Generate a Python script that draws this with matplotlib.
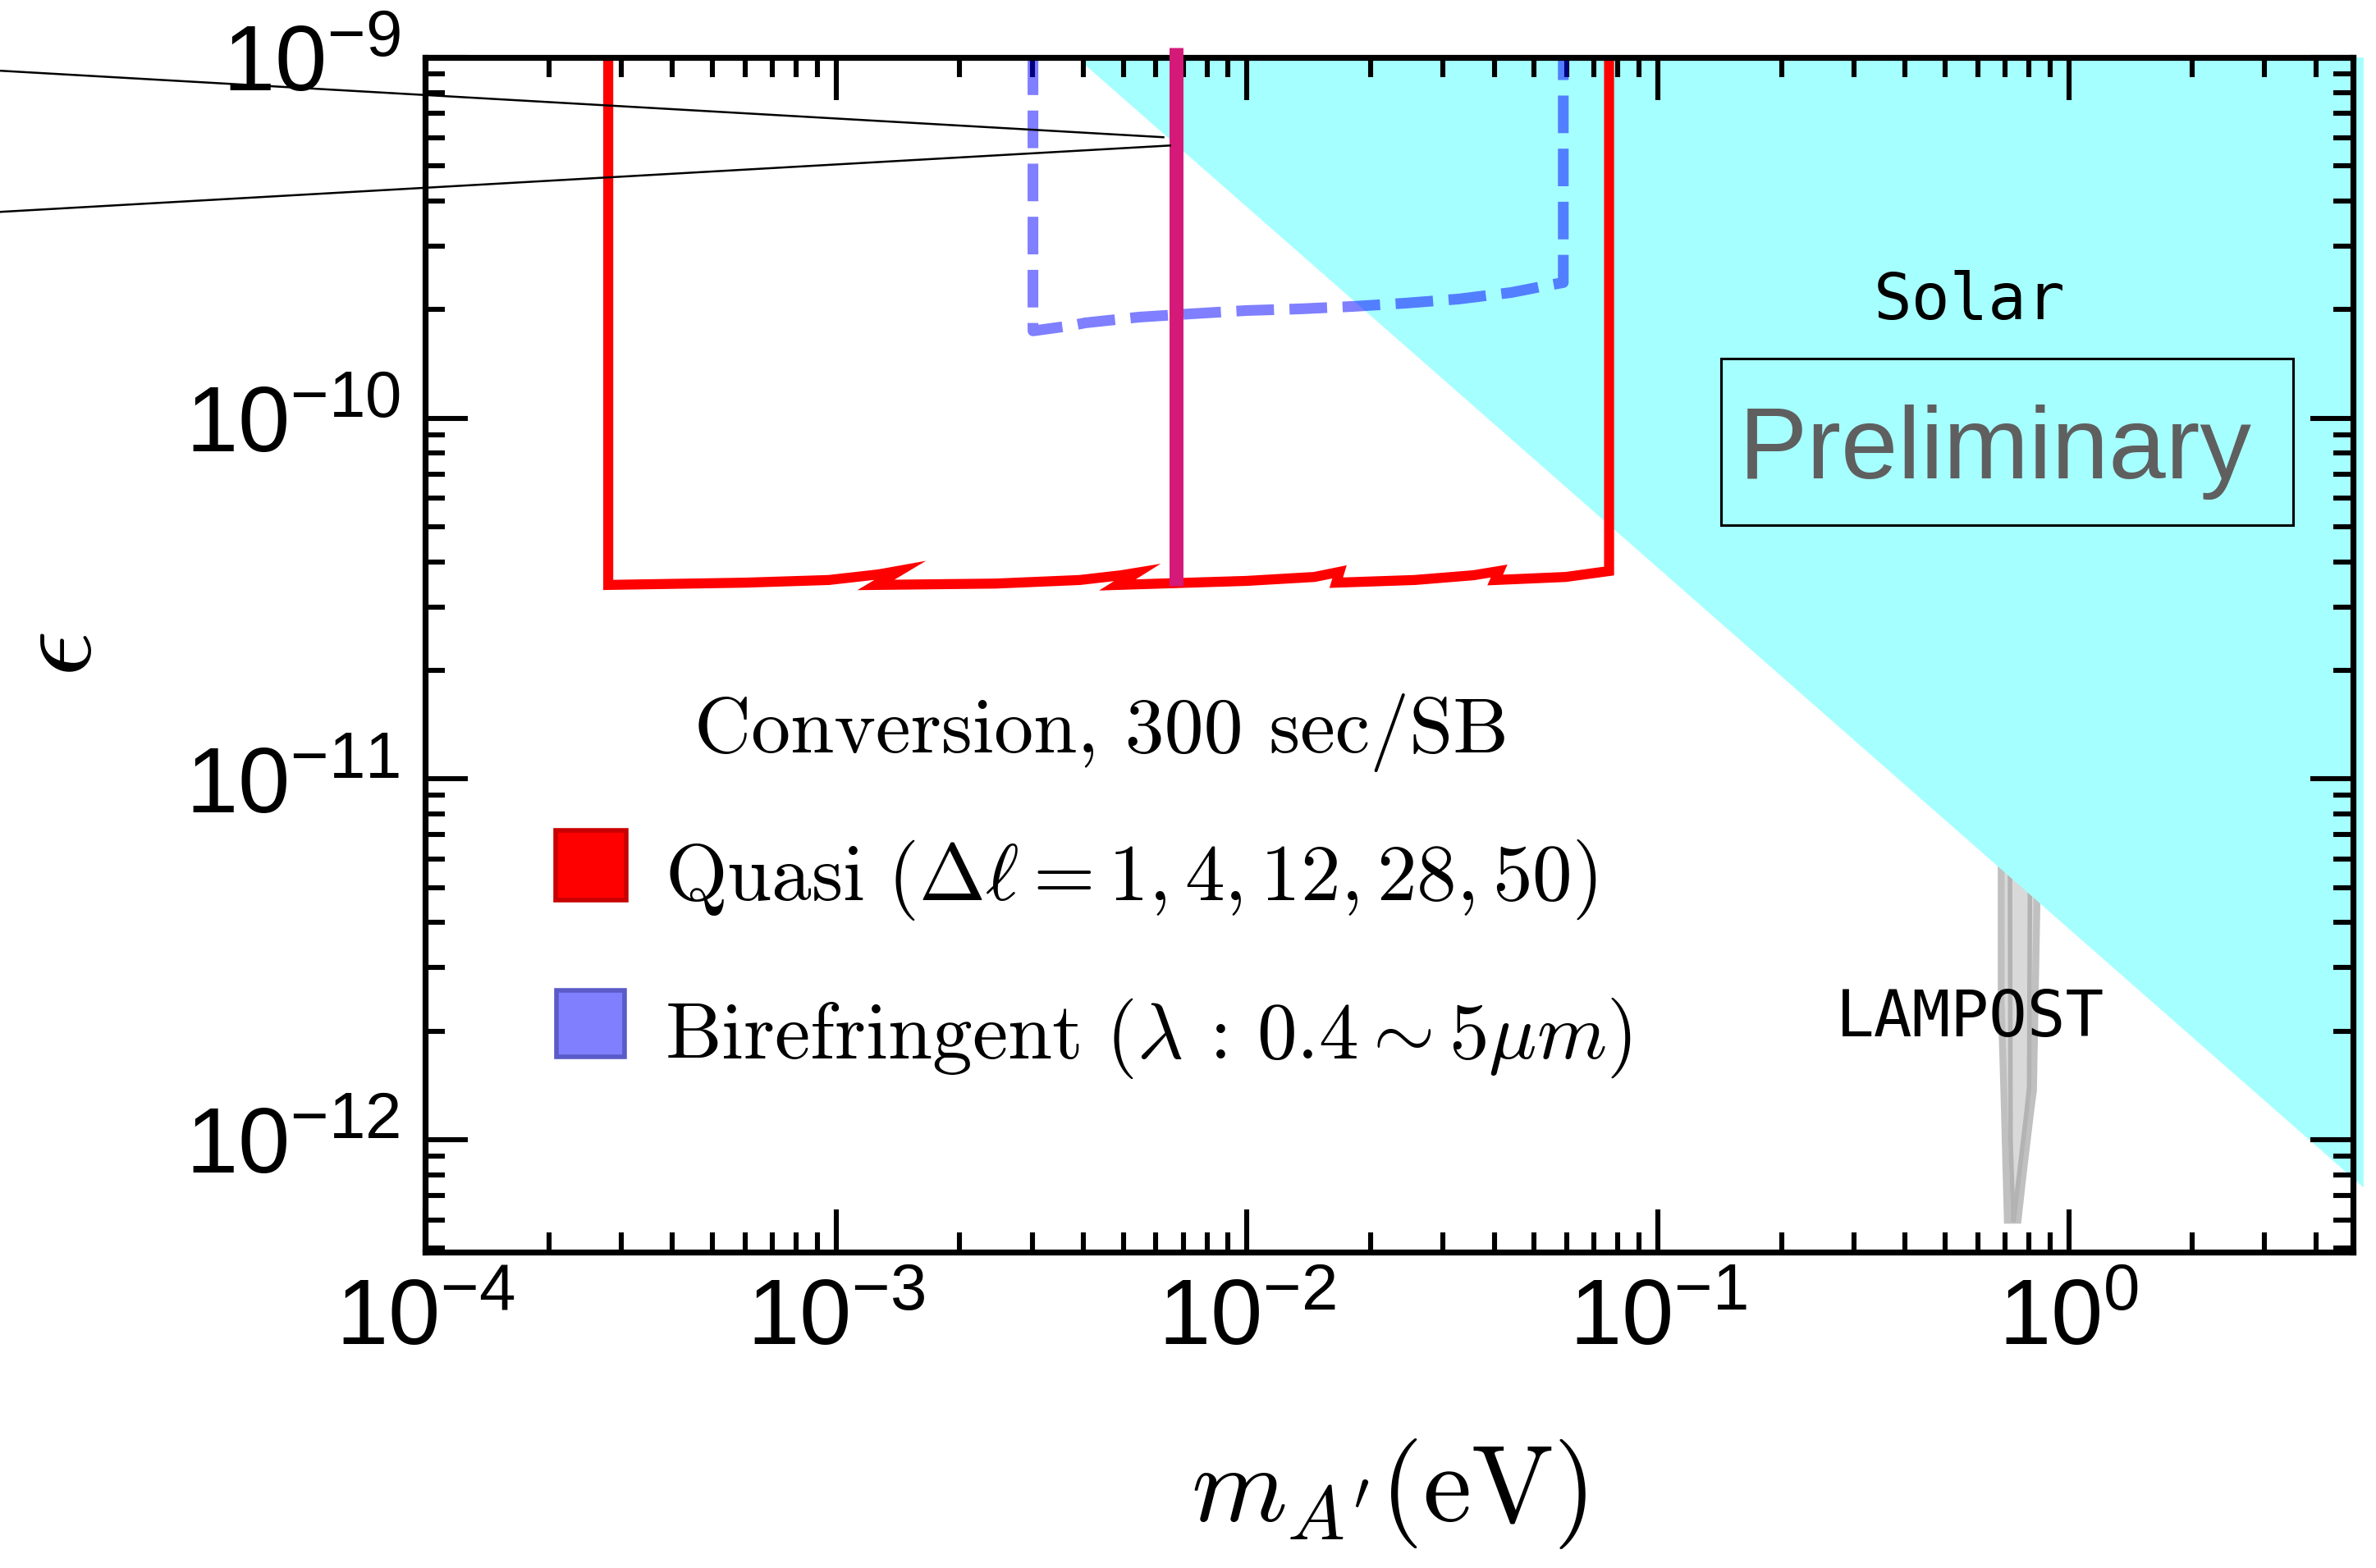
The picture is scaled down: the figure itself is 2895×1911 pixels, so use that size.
import numpy as np
import matplotlib
matplotlib.use("Agg")
import matplotlib.pyplot as plt
from matplotlib.ticker import LogLocator, FuncFormatter, NullFormatter
from matplotlib.patches import Rectangle

plt.rcParams['font.family'] = ['Liberation Sans', 'DejaVu Sans']
plt.rcParams['mathtext.fontset'] = 'custom'
plt.rcParams['mathtext.rm'] = 'Liberation Sans'
plt.rcParams['mathtext.it'] = 'Liberation Sans:italic'
plt.rcParams['mathtext.bf'] = 'Liberation Sans:bold'
plt.rcParams['mathtext.sf'] = 'Liberation Sans'
plt.rcParams['lines.scale_dashes'] = False

# ---------------- data ----------------
x_limits = [1e-4, 4.92]
y_limits = [4.88e-13, 1e-9]

# Solar exclusion region
solar_m = [3.85e-3, 5.22, 5.22]
solar_eps = [1e-9, 7.37e-13, 1e-9]

# LAMPOST region
lampost_m = [0.685, 0.685, 0.696, 0.709, 0.753, 0.774, 0.809, 0.821, 0.844]
lampost_eps = [7.6e-12, 2.41e-12, 1.31e-12, 5.98e-13, 5.98e-13, 7.94e-13, 1.21e-12, 1.37e-12, 7.6e-12]
lampost_in1_m = [0.719, 0.722, 0.733]
lampost_in1_eps = [7.6e-12, 1.0e-12, 6.0e-13]
lampost_in2_m = [0.806, 0.801, 0.790, 0.735]
lampost_in2_eps = [7.6e-12, 1.4e-12, 1.2e-12, 6.0e-13]

# Quasi-phase-matching conversion (Delta l = 1, 4, 12, 28, 50)
quasi_m = [2.79e-4, 2.79e-4, 6.0e-4, 9.6e-4, 1.27e-3, 1.43e-3,
           1.25e-3, 2.45e-3, 3.92e-3, 4.95e-3, 5.40e-3,
           4.84e-3, 1.0e-2, 1.46e-2, 1.68e-2,
           1.65e-2, 2.56e-2, 3.56e-2, 4.11e-2,
           4.02e-2, 5.97e-2, 7.61e-2, 7.61e-2]
quasi_eps = [1e-9, 3.45e-11, 3.50e-11, 3.56e-11, 3.69e-11, 3.78e-11,
             3.45e-11, 3.48e-11, 3.56e-11, 3.67e-11, 3.73e-11,
             3.45e-11, 3.54e-11, 3.63e-11, 3.75e-11,
             3.50e-11, 3.56e-11, 3.67e-11, 3.77e-11,
             3.56e-11, 3.63e-11, 3.77e-11, 1e-9]

# Birefringent (lambda: 0.4 ~ 5 um)
bire_m = [3.015e-3, 3.015e-3, 3.708e-3, 4.047e-3, 5.459e-3, 7.325e-3, 9.972e-3,
          1.345e-2, 1.814e-2, 2.434e-2, 3.283e-2, 4.406e-2, 5.445e-2, 5.888e-2, 5.888e-2]
bire_eps = [1e-9, 1.746e-10, 1.803e-10, 1.838e-10, 1.906e-10, 1.947e-10, 1.988e-10,
            2.009e-10, 2.041e-10, 2.084e-10, 2.140e-10, 2.231e-10, 2.339e-10, 2.376e-10, 1e-9]

# single-mass line
mag_m = [6.71e-3, 6.71e-3]
mag_eps = [1.065e-9, 3.43e-11]

# thin black lines
line1_m = [9.19e-6, 6.26e-3]
line1_eps = [9.19e-10, 6.01e-10]
line2_m = [9.19e-6, 6.50e-3]
line2_eps = [3.73e-10, 5.70e-10]

# ---------------- figure ----------------
W, H = 2895, 1911
fig = plt.figure(figsize=(W / 200, H / 200), dpi=200)
ax = fig.add_axes([518 / W, 1 - 1526 / H, 2349 / W, 1456 / H])
ax.set_xscale('log')
ax.set_yscale('log')
ax.set_xlim(*x_limits)
ax.set_ylim(*y_limits)

ax.fill(lampost_m, lampost_eps, facecolor='#d9d9d9', edgecolor='#c0c0c0', lw=3, zorder=1.2)
ax.plot(lampost_in1_m, lampost_in1_eps, color='#b3b3b3', lw=2, zorder=1.3)
ax.plot(lampost_in2_m, lampost_in2_eps, color='#b3b3b3', lw=2, zorder=1.3)

ax.fill(solar_m, solar_eps, facecolor='#a6ffff', edgecolor='none', lw=0, zorder=1.5, clip_on=False)

ax.plot(quasi_m, quasi_eps, color='#ff0000', lw=4.4, solid_joinstyle='miter',
        solid_capstyle='butt', zorder=3)
ax.plot(bire_m, bire_eps, color='#0000ff', alpha=0.5, lw=4.7, ls=(0, (16.5, 6.8)),
        dash_capstyle='butt', zorder=3.2)
ax.plot(mag_m, mag_eps, color='#d41978', lw=6.1, solid_capstyle='butt', zorder=4, clip_on=False)
ax.plot(line1_m, line1_eps, color='black', lw=0.9, zorder=5, clip_on=False)
ax.plot(line2_m, line2_eps, color='black', lw=0.9, zorder=5, clip_on=False)

# ticks
fmt = FuncFormatter(lambda v, p: r'$10^{%d}$' % int(round(np.log10(v))))
for axis in (ax.xaxis, ax.yaxis):
    axis.set_major_locator(LogLocator(base=10, numticks=30))
    axis.set_minor_locator(LogLocator(base=10, subs=np.arange(2, 10), numticks=30))
    axis.set_major_formatter(fmt)
    axis.set_minor_formatter(NullFormatter())
ax.tick_params(which='both', direction='in', top=True, right=True, width=2.2,
               labelsize=41, pad=11)
ax.tick_params(which='major', length=18.7)
ax.tick_params(which='minor', length=8.6)
for sp in ax.spines.values():
    sp.set_linewidth(2.6)
    sp.set_zorder(3.5)

# labels
ax.set_xlabel(r"$m_{A'}(\mathrm{eV})$", fontsize=48, math_fontfamily='cm')
ax.xaxis.set_label_coords(0.5, -0.155)
ax.set_ylabel(r'$\epsilon$', fontsize=50, math_fontfamily='cm')
ax.yaxis.set_label_coords(-0.189, 0.5)
ax.yaxis.label.set_va('center')

# annotations
ax.text(0.8012, 0.781, 'Solar', family='DejaVu Sans Mono', fontsize=28,
        ha='center', va='baseline', transform=ax.transAxes, zorder=6)
ax.text(0.8012, 0.1806, 'LAMPOST', family='DejaVu Sans Mono', fontsize=28,
        ha='center', va='baseline', transform=ax.transAxes, zorder=6)
ax.text(0.8144, 0.6477, 'Preliminary', family='Liberation Sans', fontsize=45,
        color='#5f5f5f', ha='center', va='baseline', transform=ax.transAxes, zorder=6)
ax.add_patch(Rectangle((0.672, 0.6087), 0.2969, 0.1395, transform=ax.transAxes,
                       fill=False, ec='black', lw=1.1, zorder=6))

ax.text(0.3508, 0.4183, 'Conversion, 300 sec/SB', family='cmr10',
        fontsize=34.5, ha='center', va='baseline', transform=ax.transAxes, zorder=6)
ax.add_patch(Rectangle((0.0677, 0.2945), 0.0366, 0.0587, transform=ax.transAxes,
                       facecolor='#ff0000', edgecolor='#c80000', lw=2, zorder=6))
ax.text(0.1243, 0.2946, r'$\mathrm{Quasi}\ (\Delta\ell = 1, 4, 12, 28, 50)$', math_fontfamily='cm',
        fontsize=35, ha='left', va='baseline', transform=ax.transAxes, zorder=6)
ax.add_patch(Rectangle((0.0683, 0.1635), 0.0350, 0.0556, transform=ax.transAxes,
                       facecolor='#8080ff', edgecolor='#5a5ac8', lw=2, zorder=6))
ax.text(0.1243, 0.1621, r'$\mathrm{Birefringent}\ (\lambda\,:\,0.4 \sim 5\mu m)$', math_fontfamily='cm',
        fontsize=35, ha='left', va='baseline', transform=ax.transAxes, zorder=6)

fig.savefig('out.png', dpi=200)
